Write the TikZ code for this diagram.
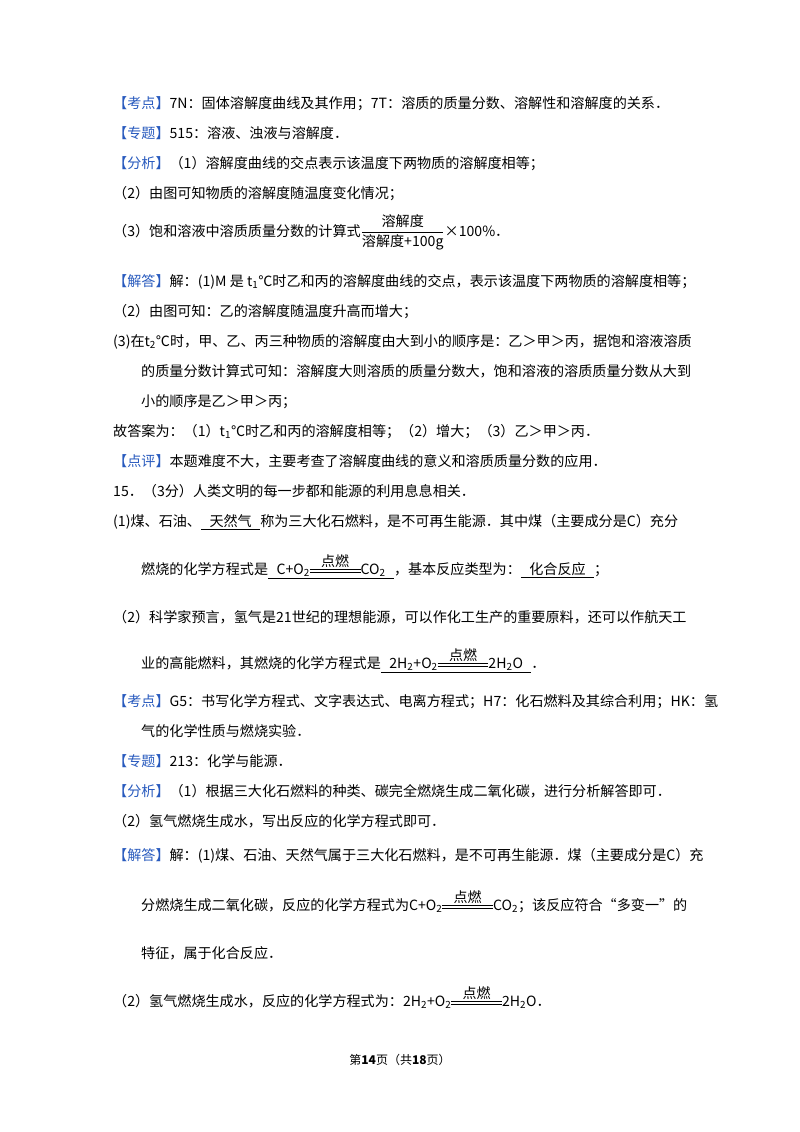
\documentclass[tikz,border=0pt]{standalone}
\usepackage{amsmath}
\usepackage{fontspec}
\setmainfont{Noto Sans CJK SC}
\definecolor{tagblue}{RGB}{40,90,190}
\newcommand\tg[1]{\textcolor{tagblue}{【#1】}}
\newcommand\sub[1]{\textsubscript{#1}}
\newcommand\rxn{\ensuremath{\mathrel{\mathop{\rule[0.22ex]{3.6em}{0.5pt}\llap{\rule[0.55ex]{3.6em}{0.5pt}}}\limits^{\mbox{\fontsize{14}{14}\selectfont 点燃}}}}}
\newcommand\ul[1]{\underline{\hspace{0.6em}#1\hspace{0.6em}}}
\tikzset{ln/.style={anchor=base west,inner sep=0pt,font=\fontsize{14.1}{16}\selectfont}}
\begin{document}
\begin{tikzpicture}[x=1pt,y=-1pt]
\useasboundingbox[fill=white] (0,0) rectangle (800,1132);
\node[ln] (l1) at (113,108) {\tg{考点}7N：固体溶解度曲线及其作用；7T：溶质的质量分数、溶解性和溶解度的关系．};
\node[ln] (l2) at (113,138) {\tg{专题}515：溶液、浊液与溶解度．};
\node[ln] (l3) at (113,168) {\tg{分析}（1）溶解度曲线的交点表示该温度下两物质的溶解度相等；};
\node[ln] (l4) at (113,198) {（2）由图可知物质的溶解度随温度变化情况；};
\node[ln] (l5) at (113,236) {（3）饱和溶液中溶质质量分数的计算式$\dfrac{\text{溶解度}}{\text{溶解度+100g}}$×100\%．};
\node[ln] (l6) at (113,286) {\tg{解答}解：(1)M 是 t\sub{1}℃时乙和丙的溶解度曲线的交点，表示该温度下两物质的溶解度相等；};
\node[ln] (l7) at (113,316) {（2）由图可知：乙的溶解度随温度升高而增大；};
\node[ln] (l8) at (113,346) {(3)在t\sub{2}℃时，甲、乙、丙三种物质的溶解度由大到小的顺序是：乙＞甲＞丙，据饱和溶液溶质};
\node[ln] (l9) at (141,376) {的质量分数计算式可知：溶解度大则溶质的质量分数大，饱和溶液的溶质质量分数从大到};
\node[ln] (l10) at (141,406) {小的顺序是乙＞甲＞丙；};
\node[ln] (l11) at (113,436) {故答案为：（1）t\sub{1}℃时乙和丙的溶解度相等；（2）增大；（3）乙＞甲＞丙．};
\node[ln] (l12) at (113,466) {\tg{点评}本题难度不大，主要考查了溶解度曲线的意义和溶质质量分数的应用．};
\node[ln] (l13) at (113,496) {15．（3分）人类文明的每一步都和能源的利用息息相关．};
\node[ln] (l14) at (113,526) {(1)煤、石油、\ul{天然气}称为三大化石燃料，是不可再生能源．其中煤（主要成分是C）充分};
\node[ln] (l15) at (141,574) {燃烧的化学方程式是\ul{C+O\sub{2}\rxn CO\sub{2}}，基本反应类型为：\ul{化合反应}；};
\node[ln] (l16) at (113,622) {（2）科学家预言，氢气是21世纪的理想能源，可以作化工生产的重要原料，还可以作航天工};
\node[ln] (l17) at (141,668) {业的高能燃料，其燃烧的化学方程式是\ul{2H\sub{2}+O\sub{2}\rxn 2H\sub{2}O}．};
\node[ln] (l18) at (113,706) {\tg{考点}G5：书写化学方程式、文字表达式、电离方程式；H7：化石燃料及其综合利用；HK：氢};
\node[ln] (l19) at (141,736) {气的化学性质与燃烧实验．};
\node[ln] (l20) at (113,766) {\tg{专题}213：化学与能源．};
\node[ln] (l21) at (113,796) {\tg{分析}（1）根据三大化石燃料的种类、碳完全燃烧生成二氧化碳，进行分析解答即可．};
\node[ln] (l22) at (113,826) {（2）氢气燃烧生成水，写出反应的化学方程式即可．};
\node[ln] (l23) at (113,860) {\tg{解答}解：(1)煤、石油、天然气属于三大化石燃料，是不可再生能源．煤（主要成分是C）充};
\node[ln] (l24) at (141,910) {分燃烧生成二氧化碳，反应的化学方程式为C+O\sub{2}\rxn CO\sub{2}；该反应符合“多变一”的};
\node[ln] (l25) at (141,958) {特征，属于化合反应．};
\node[ln] (l26) at (113,1006) {（2）氢气燃烧生成水，反应的化学方程式为：2H\sub{2}+O\sub{2}\rxn 2H\sub{2}O．};
\node[anchor=base,inner sep=0pt,font=\fontsize{12}{14}\selectfont] (ft) at (400,1064) {第\textbf{14}页（共\textbf{18}页）};
\end{tikzpicture}
\end{document}
